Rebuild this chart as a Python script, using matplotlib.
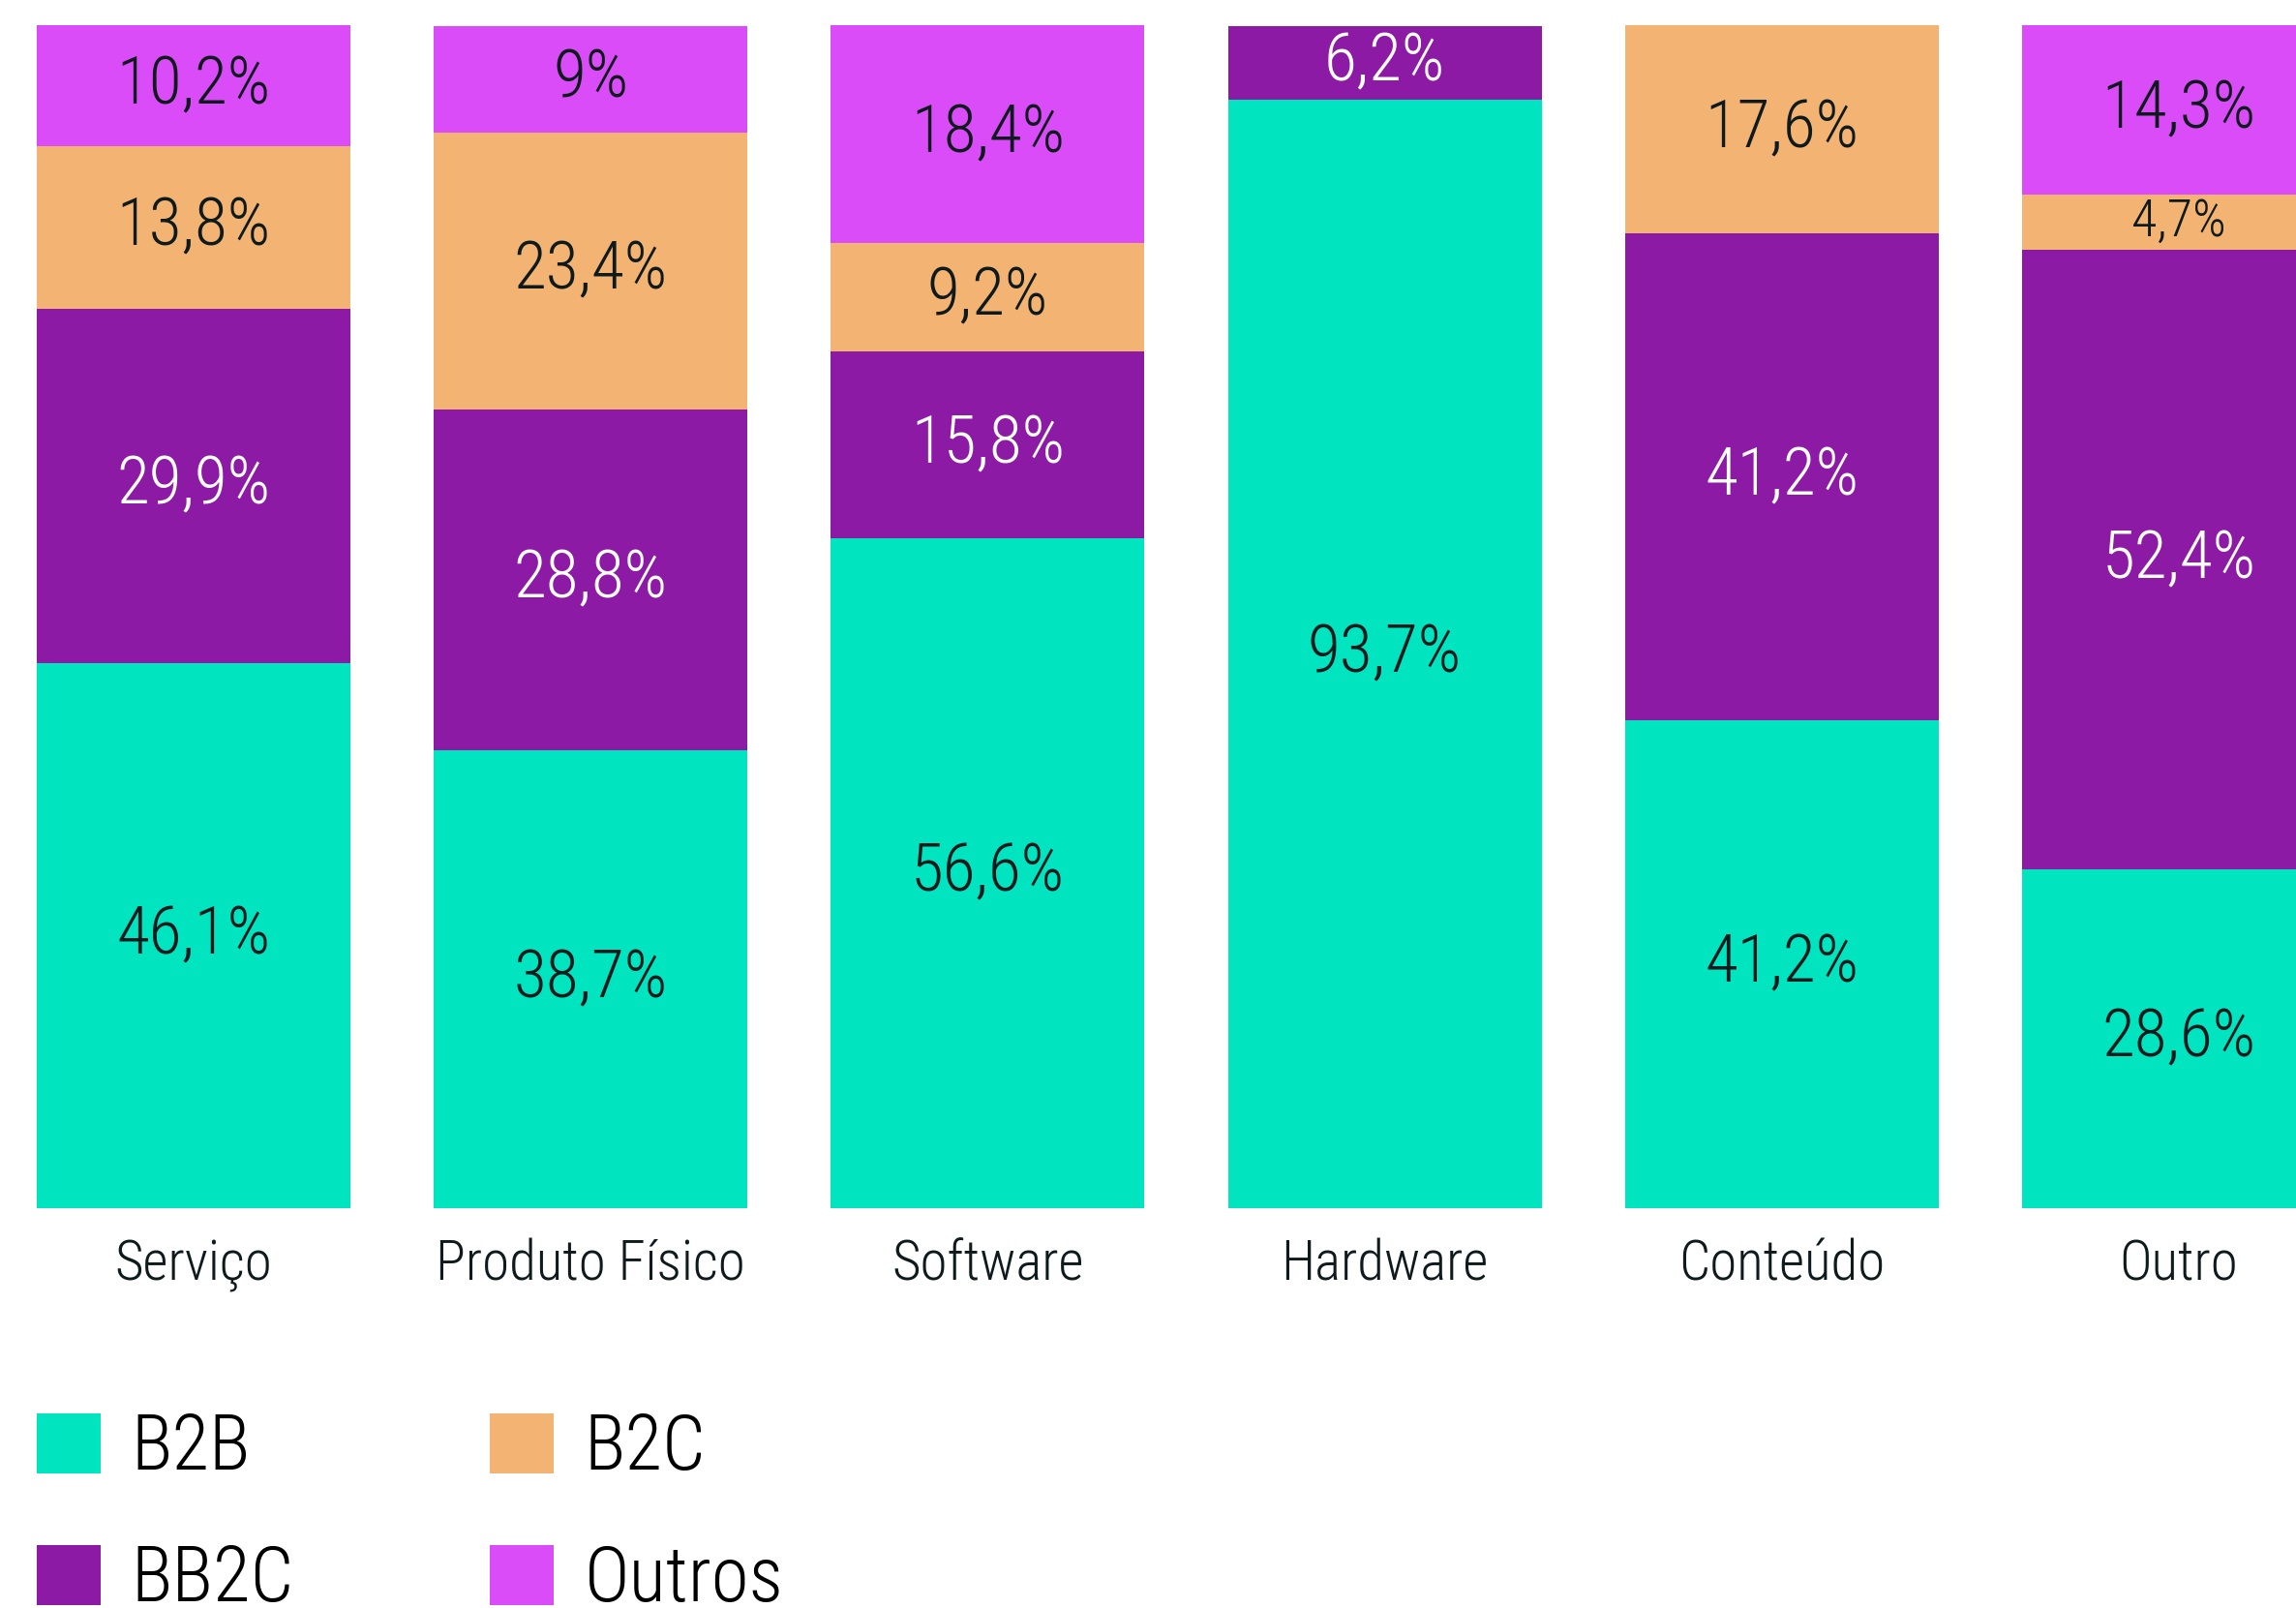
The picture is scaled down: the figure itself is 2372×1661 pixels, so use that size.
##### Import python modules
import numpy as np
import matplotlib
matplotlib.use('agg')
import matplotlib.pyplot as plt
from matplotlib import font_manager

##### Data
categories = ['Serviço', 'Produto Físico', 'Software', 'Hardware', 'Conteúdo', 'Outro']
series_names = ['B2B', 'BB2C', 'B2C', 'Outros']
b2b = [46.1, 38.7, 56.6, 93.7, 41.2, 28.6]
bb2c = [29.9, 28.8, 15.8, 6.2, 41.2, 52.4]
b2c = [13.8, 23.4, 9.2, 0.0, 17.6, 4.7]
outros = [10.2, 9.0, 18.4, 0.0, 0.0, 14.3]

##### Settings
installed = {f.name for f in font_manager.fontManager.ttflist}
for fam in ['Roboto Condensed', 'Liberation Sans Narrow', 'Roboto', 'DejaVu Sans']:
    if fam in installed:
        break
plt.rcParams['font.family'] = fam
plt.rcParams['font.weight'] = 'light'
colors = ['#00E4C0', '#8C1AA4', '#F3B373', '#DA4CF8']
dark = '#0E1A1C'
label_colors = [dark, 'white', dark, dark]

##### Plotting
fig = plt.figure(figsize=(23.72, 16.61), dpi=100)
ax = fig.add_axes([0.0, 0.2487, 1.0, 0.7357])
x = np.arange(len(categories))
bottom = np.zeros(len(categories))
handles = []
for vals, name, col, tcol in zip([b2b, bb2c, b2c, outros], series_names, colors, label_colors):
    vals = np.array(vals)
    bars = ax.bar(x, vals, width=0.79, bottom=bottom, color=col, label=name)
    handles.append(bars)
    for xi, v, b in zip(x, vals, bottom):
        if v <= 0:
            continue
        txt = ('%g' % v).replace('.', ',') + '%'
        fs = 50 if v >= 5 else 39
        ax.text(xi, b + v / 2, txt, ha='center', va='center', fontsize=fs, color=tcol)
    bottom += vals

ax.set_xlim(-0.4876, 5.2952)
ax.set_ylim(0, 100)
ax.set_xticks(x)
ax.set_xticklabels(categories, fontsize=41, color=dark)
ax.tick_params(axis='x', length=0, pad=23)
ax.set_yticks([])
for s in ax.spines.values():
    s.set_visible(False)

fig.legend(handles=handles, labels=series_names, ncol=2, loc='upper left',
           bbox_to_anchor=(0.016, 0.122), frameon=False, fontsize=57,
           handlelength=0.83, handleheight=0.83, handletextpad=0.40,
           columnspacing=2.56, labelspacing=0.75, borderpad=0, borderaxespad=0)

plt.savefig('out.png', dpi=100)
